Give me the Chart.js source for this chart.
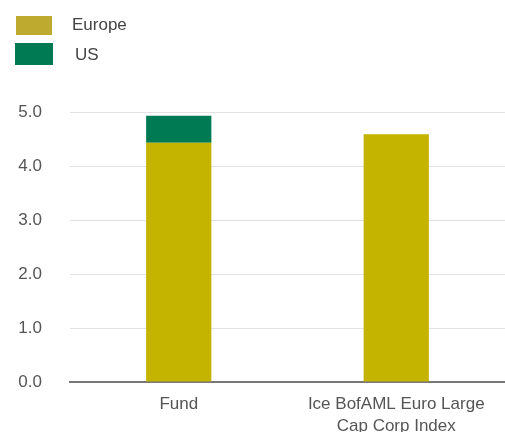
<!DOCTYPE html>
<html lang="en">
<head>
    <meta charset="UTF-8">
    <title>Europe / US</title>
    <script src="https://cdn.jsdelivr.net/npm/chart.js"></script>
    <style>
        body { margin: 0; background: #fff; font-family: "Liberation Sans", Arial, sans-serif; }
        .wrap { position: relative; width: 505px; height: 432px; overflow: hidden; }
        .legend-box { position: absolute; }
        .legend-text { position: absolute; font-size: 17px; color: #444; line-height: 20px; }
    </style>
</head>
<body>
    <div class="wrap">
        <canvas id="chart" width="505" height="432"></canvas>
        <!-- legend drawn by hand, the original stacks it top-left -->
        <div class="legend-box" style="left:16px; top:16px; width:36px; height:19px; background:#BFAA30;"></div>
        <div class="legend-text" style="left:72px; top:15px;">Europe</div>
        <div class="legend-box" style="left:15px; top:43px; width:38px; height:22px; background:#007A53;"></div>
        <div class="legend-text" style="left:75px; top:45px;">US</div>
    </div>

    <script>
        const categories = ['Fund', ['Ice BofAML Euro Large', 'Cap Corp Index']];
        const europe = [4.43, 4.59];
        const us = [0.5, 0];
        const yTicks = [0, 1, 2, 3, 4, 5];

        const ctx = document.getElementById('chart').getContext('2d');
        new Chart(ctx, {
            type: 'bar',
            data: {
                labels: categories,
                datasets: [
                    {
                        label: 'Europe',
                        data: europe,
                        backgroundColor: '#C4B400',
                        barPercentage: 0.3,
                        categoryPercentage: 1
                    },
                    {
                        label: 'US',
                        data: us,
                        backgroundColor: '#007A53',
                        barPercentage: 0.3,
                        categoryPercentage: 1
                    }
                ]
            },
            options: {
                responsive: false,
                animation: false,
                layout: { padding: { top: 112, left: 15, right: 0, bottom: 0 } },
                plugins: {
                    legend: { display: false },
                    tooltip: { enabled: false }
                },
                scales: {
                    x: {
                        stacked: true,
                        afterFit: (scale) => { scale.height = 50; },
                        grid: { display: false, drawTicks: false },
                        border: { color: '#777', width: 2 },
                        ticks: {
                            padding: 12,
                            color: '#555',
                            font: { family: 'Liberation Sans', size: 17, lineHeight: 1.25 },
                            maxRotation: 0
                        }
                    },
                    y: {
                        stacked: true,
                        min: 0,
                        max: 5,
                        afterBuildTicks: (scale) => { scale.ticks = yTicks.map(v => ({ value: v })); },
                        afterFit: (scale) => { scale.width = 55; },
                        grid: { color: '#e2e2e2', drawTicks: false },
                        border: { display: false },
                        ticks: {
                            padding: 28,
                            color: '#555',
                            font: { family: 'Liberation Sans', size: 17 },
                            callback: (v) => Number(v).toFixed(1)
                        }
                    }
                }
            }
        });
    </script>
</body>
</html>
